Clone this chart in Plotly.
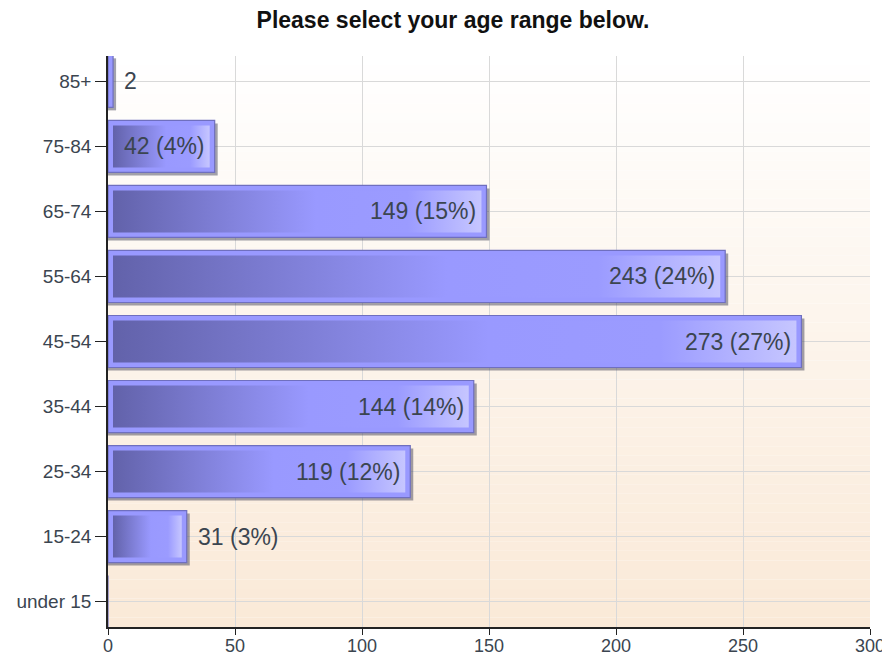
import plotly.graph_objects as go

# data, listed bottom to top
categories = ["under 15", "15-24", "25-34", "35-44", "45-54", "55-64", "65-74", "75-84", "85+"]
counts = [0, 31, 119, 144, 273, 243, 149, 42, 2]
labels = ["", "31 (3%)", "119 (12%)", "144 (14%)", "273 (27%)", "243 (24%)", "149 (15%)", "42 (4%)", "2"]
x_ticks = [0, 50, 100, 150, 200, 250, 300]

text_color = "#3b4550"
bar_color = "#9999ff"
bar_edge = "#6f6fbf"
font_main = "Liberation Sans, Arial, sans-serif"

fig = go.Figure()

idx = list(range(len(categories)))
half = 0.4
px_unit = 300 / 762.0          # data units per pixel on x
py_unit = 8.78 / 571.0         # data units per pixel on y

# drop shadow
fig.add_trace(go.Bar(
    x=[c + 3 * px_unit if c > 0 else 0 for c in counts],
    y=idx, orientation="h", width=0.8, offset=-half - 3 * py_unit,
    marker=dict(color="rgba(70,70,90,0.5)", line=dict(width=0)),
    hoverinfo="skip", showlegend=False,
))

# outer bar
fig.add_trace(go.Bar(
    x=counts, y=idx, orientation="h", width=0.8,
    marker=dict(color=bar_color, line=dict(color=bar_edge, width=1.2)),
    showlegend=False,
))

# inner gradient panel of each bar
inset_x = 5 * px_unit
inset_y = 5 * py_unit
for i, c in zip(idx, counts):
    if c < 6:
        continue
    x0, x1 = inset_x, c - inset_x
    y0, y1 = i - half + inset_y, i + half - inset_y
    fig.add_trace(go.Scatter(
        x=[x0, x1, x1, x0, x0], y=[y0, y0, y1, y1, y0],
        mode="lines", line=dict(width=0), fill="toself",
        fillgradient=dict(
            type="horizontal",
            colorscale=[[0, "#6262aa"], [0.55, "#9999ff"], [0.8, "#9b9bff"], [1, "#c6c6ff"]],
        ),
        hoverinfo="skip", showlegend=False,
    ))

# value labels
annotations = []
for i, c, lab in zip(idx, counts, labels):
    if not lab:
        continue
    outside = c < 40
    annotations.append(dict(
        x=c, y=i, xref="x", yref="y", text=lab, showarrow=False,
        xanchor="left" if outside else "right",
        xshift=9 if outside else -8,
        font=dict(family=font_main, size=23, color=text_color),
    ))

# soft vertical background gradient of the plot area
shapes = []
n = 60
top = (255, 255, 255)
bottom = (250, 233, 215)
for k in range(n):
    t = (k + 0.5) / n
    col = tuple(round(top[j] + (bottom[j] - top[j]) * t) for j in range(3))
    shapes.append(dict(
        type="rect", xref="paper", yref="paper",
        x0=0, x1=1, y0=1 - (k + 1) / n, y1=1 - k / n,
        fillcolor="rgb(%d,%d,%d)" % col, line=dict(width=0), layer="below",
    ))

fig.update_layout(
    width=890, height=658,
    margin=dict(l=100, r=28, t=48, b=39),
    paper_bgcolor="white",
    plot_bgcolor="white",
    title=dict(text="<b>Please select your age range below.</b>", x=0.5, xanchor="center",
               y=0.994, yanchor="top", pad=dict(t=0, b=0),
               font=dict(family=font_main, size=23, color="#111111")),
    bargap=0.2,
    barmode="overlay",
    shapes=shapes,
    annotations=annotations,
    font=dict(family=font_main, color=text_color),
)

fig.update_xaxes(
    range=[0, 300], tickvals=x_ticks, showgrid=True, gridcolor="#d9d9d9", gridwidth=1,
    zeroline=False, showline=True, linecolor="#222222", linewidth=1.5,
    ticks="outside", ticklen=6, tickcolor="#222222", automargin=False,
    ticklabelstandoff=-4,
    tickfont=dict(family=font_main, size=18, color=text_color),
)
fig.update_yaxes(
    range=[-0.39, 8.39], tickvals=idx, ticktext=categories,
    showgrid=True, gridcolor="#d9d9d9", gridwidth=1,
    zeroline=False, showline=True, linecolor="#222222", linewidth=1.5,
    ticks="outside", ticklen=11, tickcolor="#222222", automargin=False,
    tickfont=dict(family=font_main, size=19, color=text_color),
)

fig.write_html("out.html")
